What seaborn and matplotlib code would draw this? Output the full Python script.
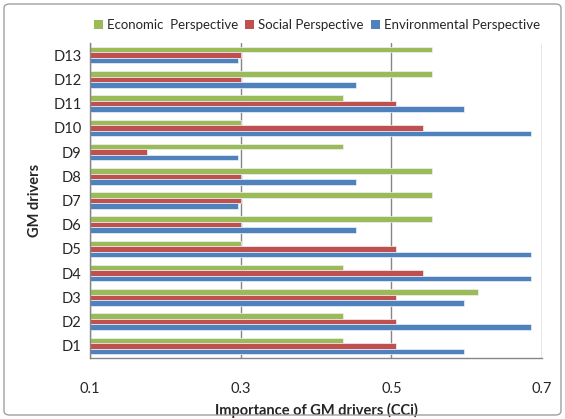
import matplotlib
matplotlib.use("Agg")
import matplotlib.pyplot as plt
from matplotlib.patches import FancyBboxPatch, Patch
from matplotlib.ticker import FixedLocator
import numpy as np
import pandas as pd
import seaborn as sns

drivers = ["D1", "D2", "D3", "D4", "D5", "D6", "D7", "D8", "D9", "D10", "D11", "D12", "D13"]
economic = [0.436, 0.436, 0.615, 0.436, 0.301, 0.554, 0.554, 0.554, 0.436, 0.301, 0.436, 0.554, 0.554]
social = [0.506, 0.506, 0.506, 0.5425, 0.506, 0.300, 0.300, 0.300, 0.176, 0.5425, 0.506, 0.300, 0.300]
environmental = [0.596, 0.686, 0.596, 0.686, 0.686, 0.453, 0.297, 0.453, 0.297, 0.686, 0.596, 0.453, 0.297]

series_names = ["Economic  Perspective", "Social Perspective", "Environmental Perspective"]
colors = ["#9BBB59", "#C0504D", "#4F81BD"]
x_ticks = [0.1, 0.3, 0.5, 0.7]

df = pd.DataFrame({
    "driver": drivers * 3,
    "value": economic + social + environmental,
    "series": np.repeat(series_names, len(drivers)),
})

sns.set_style("white")
plt.rcParams["font.family"] = ["Lato", "DejaVu Sans"]

fig = plt.figure(figsize=(5.65, 4.19), dpi=100)
ax = fig.add_axes([90 / 565, 1 - 358 / 419, 452 / 565, 315 / 419])

sns.barplot(data=df, y="driver", x="value", hue="series", order=drivers[::-1],
            hue_order=series_names, palette=colors, orient="h", width=0.68,
            ax=ax, legend=False, saturation=1, edgecolor="#EEF2F8", linewidth=0.5)

ax.set_xlim(0.1, 0.7)
ax.set_ylim(len(drivers) - 0.5, -0.5)
ax.set_xticks(x_ticks)
ax.set_xticklabels([f"{t:.1f}" for t in x_ticks], fontsize=10.5)
ax.tick_params(axis="x", length=5, width=1, color="#868686", pad=12, direction="out")
ax.tick_params(axis="y", which="major", length=0, pad=6, labelsize=10.5)
ax.yaxis.set_minor_locator(FixedLocator(np.arange(-0.5, len(drivers), 1)))
ax.tick_params(axis="y", which="minor", length=5, width=1, color="#868686", direction="out")
ax.grid(axis="x", color="#868686", linewidth=1)
ax.set_axisbelow(True)

for side in ["top", "right"]:
    ax.spines[side].set_visible(False)
for side in ["left", "bottom"]:
    ax.spines[side].set_color("#868686")
    ax.spines[side].set_linewidth(1)

ax.set_xlabel("Importance of GM drivers (CCi)", fontsize=10.5, fontweight="bold", labelpad=5)
ax.set_ylabel("GM drivers", fontsize=10.5, fontweight="bold", labelpad=8)

handles = [Patch(facecolor=c, edgecolor="none") for c in colors]
fig.legend(handles, series_names, loc="center", bbox_to_anchor=(317 / 565, 1 - 25 / 419),
           ncol=3, frameon=False, fontsize=9.5, handlelength=0.7, handleheight=0.7,
           handletextpad=0.3, columnspacing=0.5)

fig.patches.append(FancyBboxPatch((4 / 565, 4 / 419), 557 / 565, 411 / 419,
                                  boxstyle="round,pad=0,rounding_size=0.01",
                                  transform=fig.transFigure, facecolor="none",
                                  edgecolor="#A0A0A0", linewidth=1))

fig.savefig("out.png", dpi=100)
